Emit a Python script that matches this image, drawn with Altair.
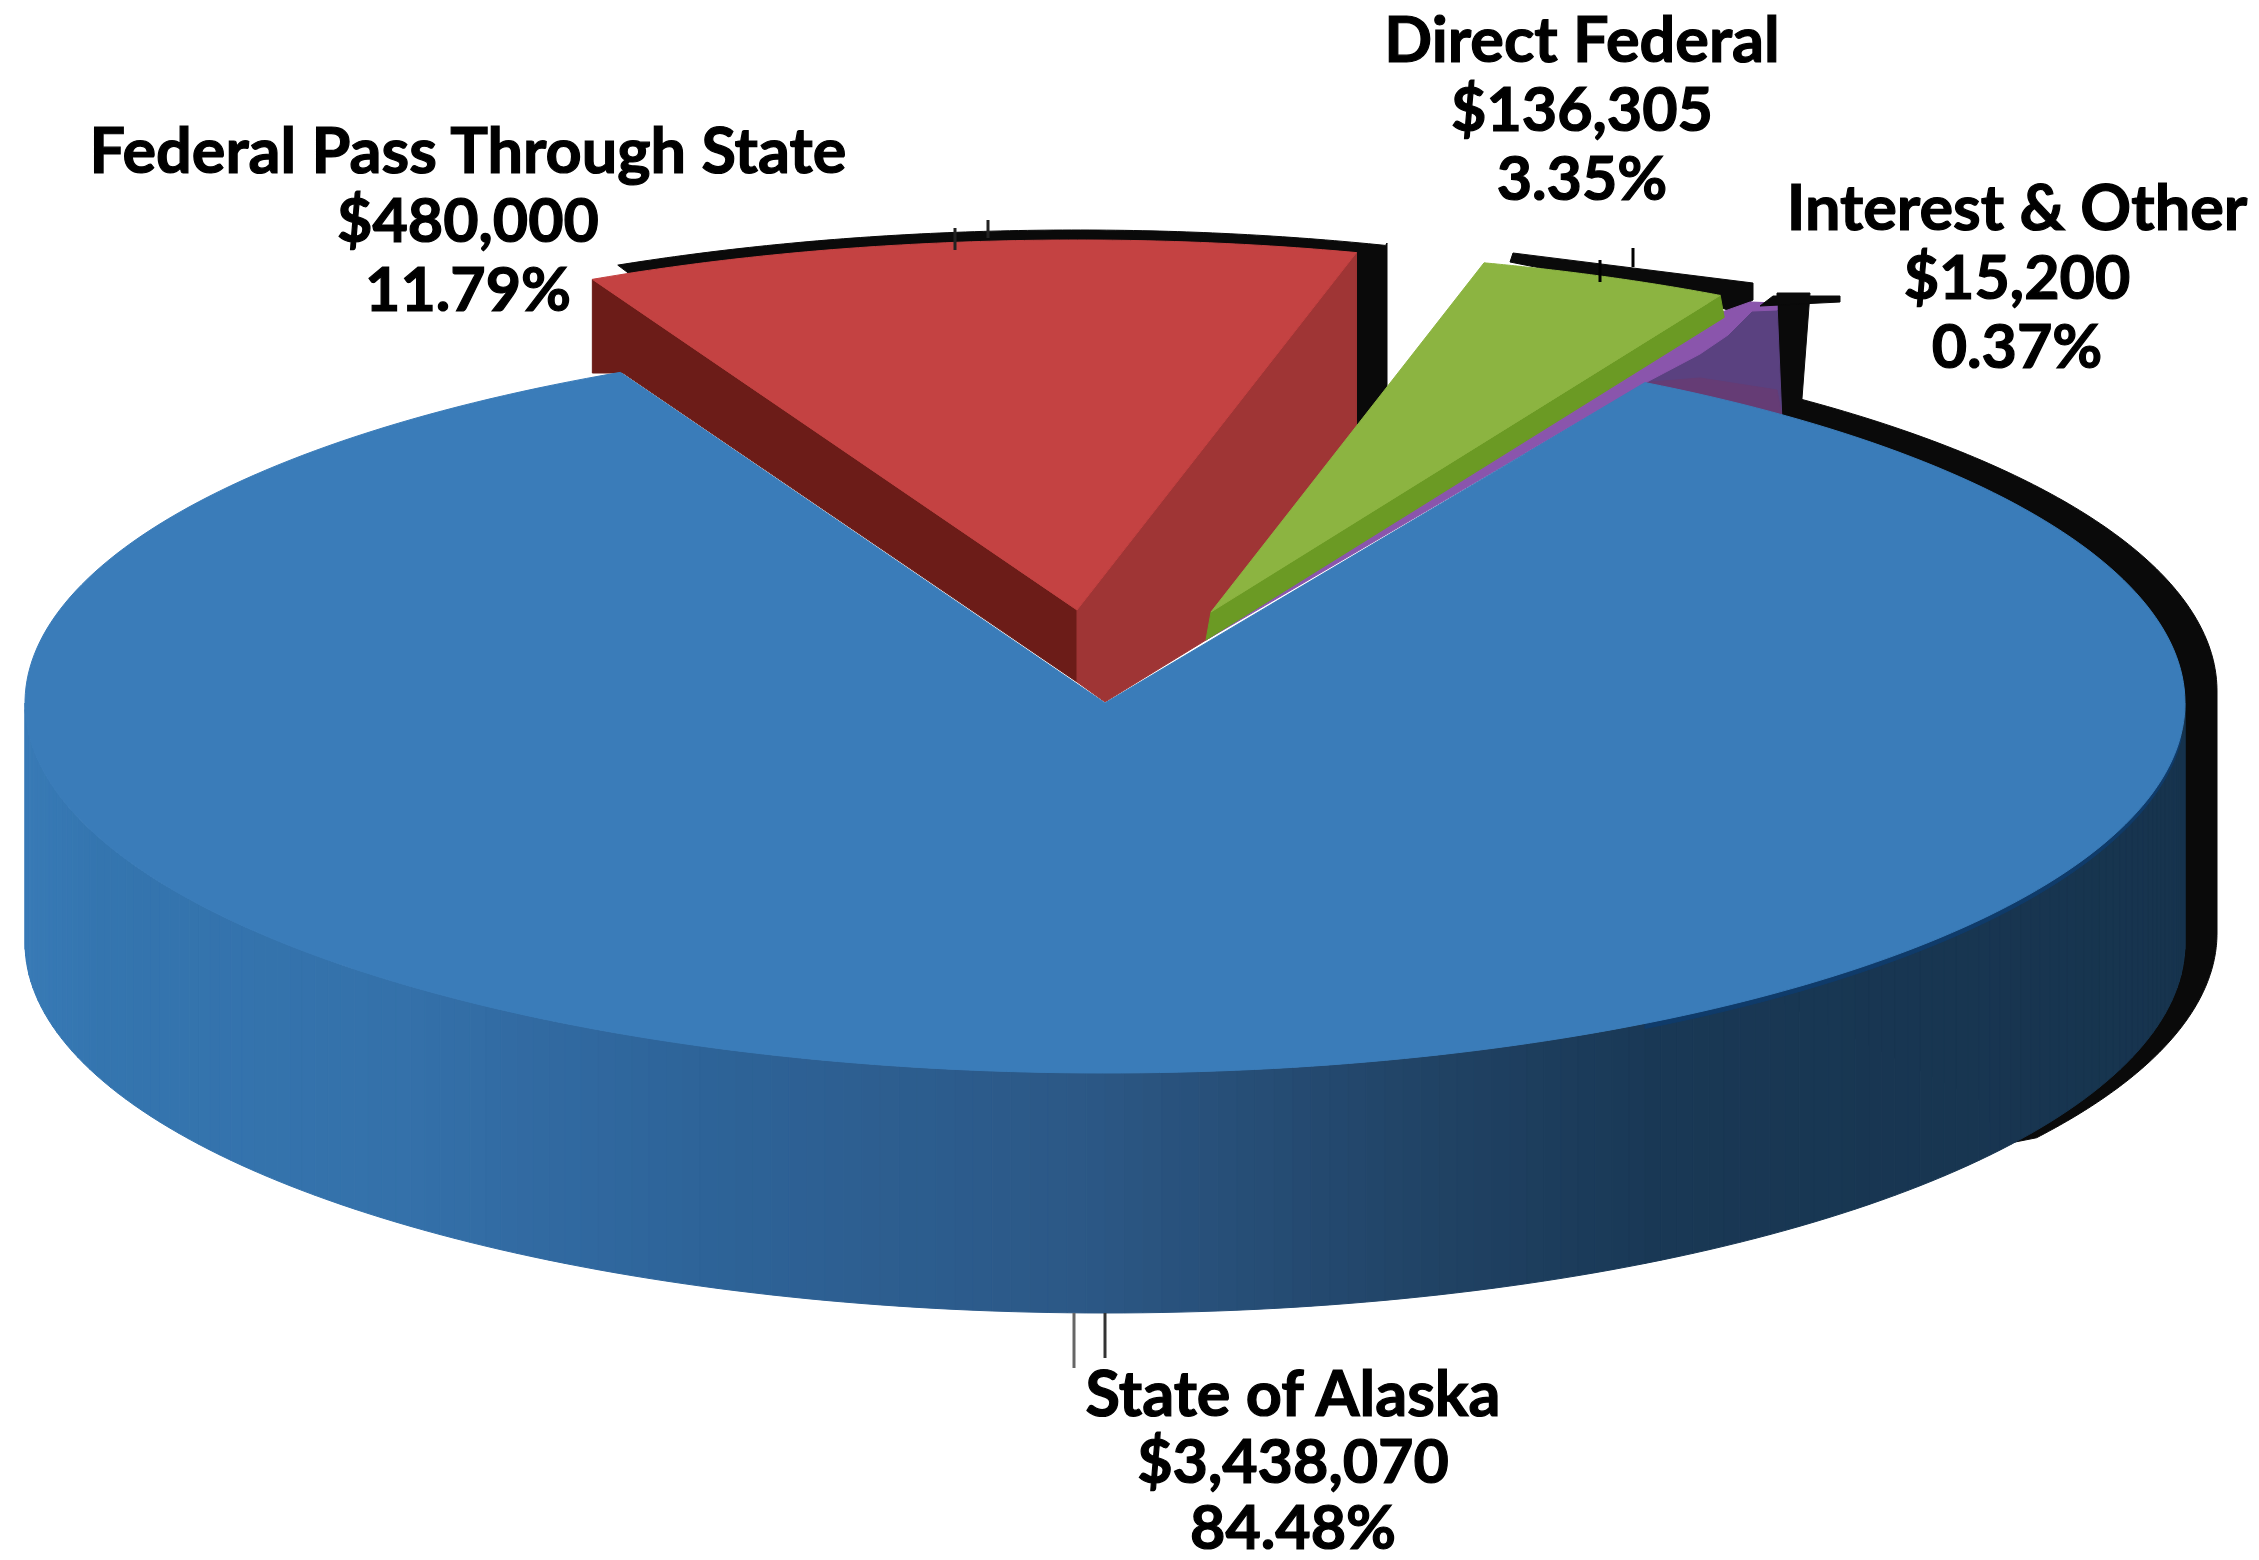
import numpy as np
import pandas as pd
import altair as alt

# ---- chart values -------------------------------------------------------
names = ["State of Alaska", "Federal Pass Through State", "Direct Federal", "Interest & Other"]
amounts = [3438070, 480000, 136305, 15200]
percent_labels = ["84.48%", "11.79%", "3.35%", "0.37%"]
amount_labels = ["$3,438,070", "$480,000", "$136,305", "$15,200"]

# ---- styling / layout ---------------------------------------------------
C_BLUE, C_RED, C_RED_SIDE, C_RED_DARK = "#3a7cb9", "#c44242", "#9f3535", "#6c1c18"
C_GREEN, C_GREEN_DARK, C_PURPLE, C_PURPLE_LOW, C_PURPLE_LINE = "#8cb441", "#6b9a24", "#5a4180", "#653c75", "#8a55ac"
C_RIM = "#0f3b6a"
C_BLACK = "#0a0a0a"
wall_stop_x = [26, 100, 400, 510, 714, 1080, 1440, 1660, 2185]
wall_stop_rgb = [(56, 122, 182), (52, 117, 175), (52, 113, 170), (50, 107, 163), (45, 99, 152),
                 (44, 88, 134), (32, 66, 100), (25, 56, 85), (23, 52, 78)]

CX, CY, A, B, DEPTH = 1105, 703, 1080, 370, 240
START_ANGLE = 30.0
# small offsets of the drawn slice edges relative to the true share angles
EDGE_NUDGE = {"blue_end": -0.8, "red_end": -1.6, "green_end": 0.2}

shares = np.array(amounts, dtype=float) / sum(amounts) * 360
blue_start = START_ANGLE
blue_end = blue_start + shares[0]
red_end = blue_end + shares[1]
green_end = red_end + shares[2]
blue_end_d = blue_end + EDGE_NUDGE["blue_end"]
red_end_d = red_end + EDGE_NUDGE["red_end"]
green_end_d = green_end + EDGE_NUDGE["green_end"]

rows = []
pid = 0


def poly(pts, color):
    global pid
    pid += 1
    for i, (x, y) in enumerate(pts):
        rows.append({"id": pid, "seq": i, "x": float(x), "y": float(y), "c": color})


def arc(t0, t1, cx=CX, cy=CY, s=1.0, n=90):
    ts = np.radians(np.linspace(t0, t1, n))
    return [(cx + s * A * np.sin(t), cy - s * B * np.cos(t)) for t in ts]


def wall_color(x):
    return "#%02x%02x%02x" % tuple(
        int(round(np.interp(x, wall_stop_x, [c[i] for c in wall_stop_rgb]))) for i in range(3)
    )


# black shadow behind the disc
SX, ST, SB = 32, 691, 933
top_shadow = arc(38.0, 90, cx=CX + SX, cy=ST)
bot_shadow = arc(90, 123.6, cx=CX + SX, cy=SB)
poly([(1777, 293), (1810, 293)] + top_shadow + bot_shadow + [(2000, 1145), (1980, 1100), (1777, 1000)], C_BLACK)

# black shadow behind the red slice
RC = (1077, 610)
red_start_t = blue_end_d - 360
red_end_t = red_end_d - 360
poly(arc(red_start_t + 1.5, red_end_t + 1.6, cx=RC[0], cy=RC[1] - 10)
     + [(1387, 243), (1387, 392), (1355, 432), RC], C_BLACK)

# black shadow behind the green slice
GC = (1211, 612)
GS = 0.977
poly([(1510, 262), (1513, 253), (1753, 283), (1753, 300), (1733, 312), (1700, 300)], C_BLACK)

# red slice: faces then top
red_arc = arc(red_start_t, red_end_t, cx=RC[0], cy=RC[1])
ra0, ra1 = red_arc[0], red_arc[-1]
poly([ra0, RC, (RC[0], 682), (623, 373), (ra0[0], 373)], C_RED_DARK)
poly([RC, ra1, (ra1[0], 429), (1206, 640), (1105, 702), (RC[0], 682)], C_RED_SIDE)
poly([RC] + red_arc, C_RED)

# purple slice: side face, its lower part and the thin top
pur_rim = arc(30, 38.8)
poly([pur_rim[0], (1700, 345), (1750, 303), (1777, 303), pur_rim[-1]], C_PURPLE)
poly([pur_rim[0], (1700, 378), (1777, 390), pur_rim[-1]], C_PURPLE_LOW)
poly([(1206, 640), (1700, 330), (1722, 312), (1750, 302), (1777, 303), (1777, 310), (1752, 311),
      (1728, 335), (1700, 354), (1645, 383)], C_PURPLE_LINE)
poly([(1773, 296), (1840, 296), (1840, 302), (1760, 306)], C_BLACK)

# green slice
green_arc = arc(red_end_t, green_end_d - 360, cx=GC[0], cy=GC[1], s=GS)
ga1 = green_arc[-1]
poly([GC, ga1, (ga1[0] + 4, ga1[1] + 22), (1206, 640)], C_GREEN_DARK)
poly([GC] + green_arc, C_GREEN)

# disc wall as narrow strips following the rim
wall_t = np.linspace(270, 90, 181)
for t0, t1 in zip(wall_t[:-1], wall_t[1:]):
    r0 = np.radians(t0)
    r1 = np.radians(t1)
    x0, y0 = CX + A * np.sin(r0), CY - B * np.cos(r0)
    x1, y1 = CX + A * np.sin(r1), CY - B * np.cos(r1)
    poly([(x0, y0), (x1, y1), (x1, y1 + DEPTH), (x0, y0 + DEPTH)], wall_color((x0 + x1) / 2))

# darker lip where the right-hand wall meets the top
lip_top = arc(95, 150, n=60)
poly(lip_top + [(x, y + 5) for x, y in reversed(lip_top)], C_RIM)

# disc top
poly([(CX, CY)] + arc(blue_start, blue_end_d, n=300), C_BLUE)

df = pd.DataFrame(rows)
X_DOMAIN = [8, 2251]
Y_DOMAIN = [1552, 8]
x_enc = alt.X("x:Q", scale=alt.Scale(domain=X_DOMAIN), axis=None)
y_enc = alt.Y("y:Q", scale=alt.Scale(domain=Y_DOMAIN), axis=None)

shapes = alt.Chart(df).mark_line(filled=True, interpolate="linear-closed", strokeWidth=1).encode(
    x=x_enc, y=y_enc,
    detail="id:N",
    order=alt.Order("seq:Q"),
    color=alt.Color("c:N", scale=None),
    stroke=alt.Stroke("c:N", scale=None),
)

# leader ticks
ticks = pd.DataFrame({
    "x": [955, 988, 1600, 1633, 1074, 1105],
    "y": [228, 220, 260, 248, 1313, 1313],
    "y2": [250, 238, 282, 267, 1368, 1358],
    "c": ["#222222", "#222222", "#000000", "#000000", "#666666", "#333333"],
})
tick_layer = alt.Chart(ticks).mark_rule(strokeWidth=3).encode(
    x=x_enc, y=y_enc, y2="y2:Q", color=alt.Color("c:N", scale=None))

# labels
label_x = [1293, 468, 1582, 2017]
label_y = [1416, 173, 62, 230]
label_step = [66.5, 69, 69, 69]
lab_rows = []
for i in range(4):
    for j, t in enumerate([names[i], amount_labels[i], percent_labels[i]]):
        lab_rows.append({"x": label_x[i], "y": label_y[i] + j * label_step[i], "t": t,
                         "s": 63 if j == 0 else 61})
labels = alt.Chart(pd.DataFrame(lab_rows)).mark_text(
    font="Lato", fontWeight="bold", align="center", baseline="alphabetic",
    color="#000000", stroke="#000000", strokeWidth=1.2
).encode(x=x_enc, y=y_enc, text="t:N", size=alt.Size("s:Q", scale=None))

chart = alt.layer(shapes, tick_layer, labels).properties(
    width=2243, height=1544, padding=0, background="#ffffff",
    autosize=alt.AutoSizeParams(type="none")
).configure_view(stroke=None)

chart.save("out.html", embed_options={"renderer": "svg", "actions": False})
